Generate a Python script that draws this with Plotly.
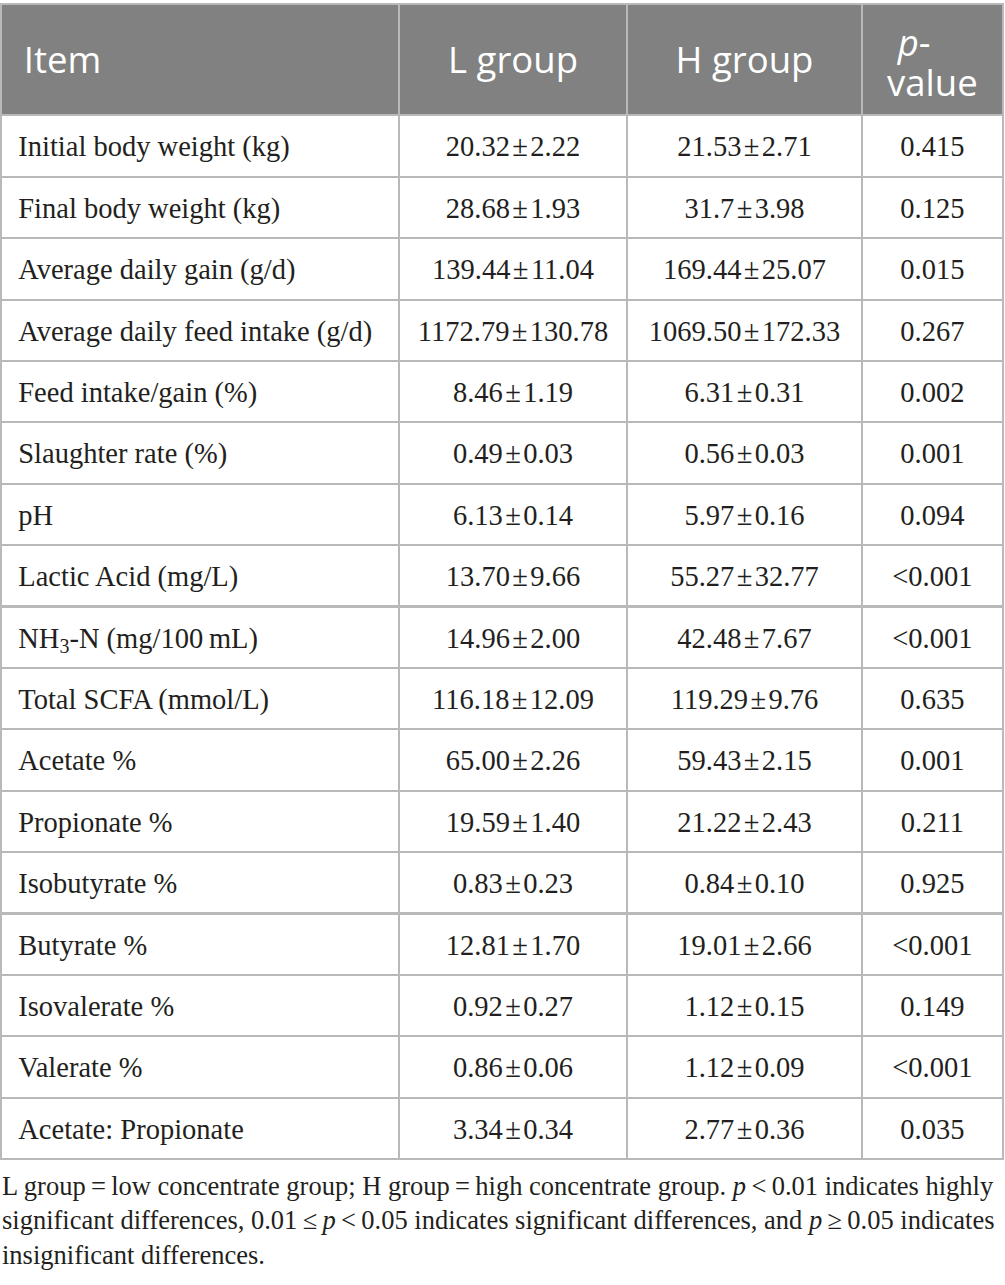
import plotly.graph_objects as go

# ===== data =====
items = [
    "Initial body weight (kg)", "Final body weight (kg)", "Average daily gain (g/d)",
    "Average daily feed intake (g/d)", "Feed intake/gain (%)", "Slaughter rate (%)", "pH",
    "Lactic Acid (mg/L)", "NH<sub>3</sub>-N (mg/100\u2009mL)", "Total SCFA (mmol/L)",
    "Acetate %", "Propionate %", "Isobutyrate %", "Butyrate %", "Isovalerate %",
    "Valerate %", "Acetate: Propionate",
]
l_mean = ["20.32", "28.68", "139.44", "1172.79", "8.46", "0.49", "6.13", "13.70", "14.96",
          "116.18", "65.00", "19.59", "0.83", "12.81", "0.92", "0.86", "3.34"]
l_sd = ["2.22", "1.93", "11.04", "130.78", "1.19", "0.03", "0.14", "9.66", "2.00",
        "12.09", "2.26", "1.40", "0.23", "1.70", "0.27", "0.06", "0.34"]
h_mean = ["21.53", "31.7", "169.44", "1069.50", "6.31", "0.56", "5.97", "55.27", "42.48",
          "119.29", "59.43", "21.22", "0.84", "19.01", "1.12", "1.12", "2.77"]
h_sd = ["2.71", "3.98", "25.07", "172.33", "0.31", "0.03", "0.16", "32.77", "7.67",
        "9.76", "2.15", "2.43", "0.10", "2.66", "0.15", "0.09", "0.36"]
p_values = ["0.415", "0.125", "0.015", "0.267", "0.002", "0.001", "0.094", "&lt;0.001",
            "&lt;0.001", "0.635", "0.001", "0.211", "0.925", "&lt;0.001", "0.149",
            "&lt;0.001", "0.035"]
headers = ["Item", "L group", "H group", "<i>p</i>-<br>value"]

footnote = ("L group\u2009=\u2009low concentrate group; H group\u2009=\u2009high concentrate group. "
            "<i>p</i>\u2009&lt;\u20090.01 indicates highly<br>significant differences, "
            "0.01\u2009≤\u2009<i>p</i>\u2009&lt;\u20090.05 indicates significant differences, "
            "and <i>p</i>\u2009≥\u20090.05 indicates<br>insignificant differences.")

W, H = 1005, 1285
grid = "#b9b9b9"
ink = "#231f20"

# plotly tables hang the text from the top of the cell (by its box), so a
# tall blank glyph in each line pushes the baseline down to the middle.
# The leading <br> only stops plotly from re-wrapping the spans.
BODY_PX, HEAD_PX = 28.5, 36.5


def span(t, px):
    return f"<span style='font-size:{px}px'>{t}</span>"


pm = "\u200a±\u200a"
pad_b = span("\u00a0", 37)
pad_h = span("\u00a0", 57)
pad_p = span("\u00a0", 41)


def centred(t):
    return "<br>" + pad_b + span(t, BODY_PX) + pad_b


item_col = ["<br>" + pad_b + span(t, BODY_PX) for t in items]
l_col = [centred(m + pm + s) for m, s in zip(l_mean, l_sd)]
h_col = [centred(m + pm + s) for m, s in zip(h_mean, h_sd)]
p_col = [centred(p) for p in p_values]

p_top, p_bottom = headers[3].split("<br>")
head_vals = ["<br>" + pad_h + span(headers[0], HEAD_PX),
             "<br>" + pad_h + span(headers[1], HEAD_PX) + pad_h,
             "<br>" + pad_h + span(headers[2], HEAD_PX) + pad_h,
             pad_p + span(p_top, HEAD_PX) + "<br>" + span(p_bottom, HEAD_PX)]

fig = go.Figure(go.Table(
    domain=dict(x=[0.001, 0.999], y=[(H - 1175) / H, 1 - 4 / H]),
    columnwidth=[397, 228, 234, 141],
    header=dict(
        values=head_vals,
        fill_color="#808180",
        line=dict(color=grid, width=2),
        align=["left", "center", "center", "center"],
        font=dict(family="Open Sans", size=[30, 30, 30, 31], color="white"),
        height=111,
    ),
    cells=dict(
        values=[item_col, l_col, h_col, p_col],
        fill_color="white",
        line=dict(color=grid, width=2),
        align=["left", "center", "center", "center"],
        font=dict(family="Liberation Serif", size=16.6, color=ink),
        height=61.4,
    ),
))

fig.add_annotation(
    text=footnote, xref="paper", yref="paper", x=0.0, y=(H - 1169) / H,
    xanchor="left", yanchor="top", align="left", showarrow=False,
    font=dict(family="Liberation Serif", size=26.5, color=ink),
)

fig.update_layout(width=W, height=H, margin=dict(l=0, r=0, t=0, b=0),
                  paper_bgcolor="white", plot_bgcolor="white")

fig.write_html("out.html", config={"displayModeBar": False},
               post_script="document.body.style.margin='0';")
